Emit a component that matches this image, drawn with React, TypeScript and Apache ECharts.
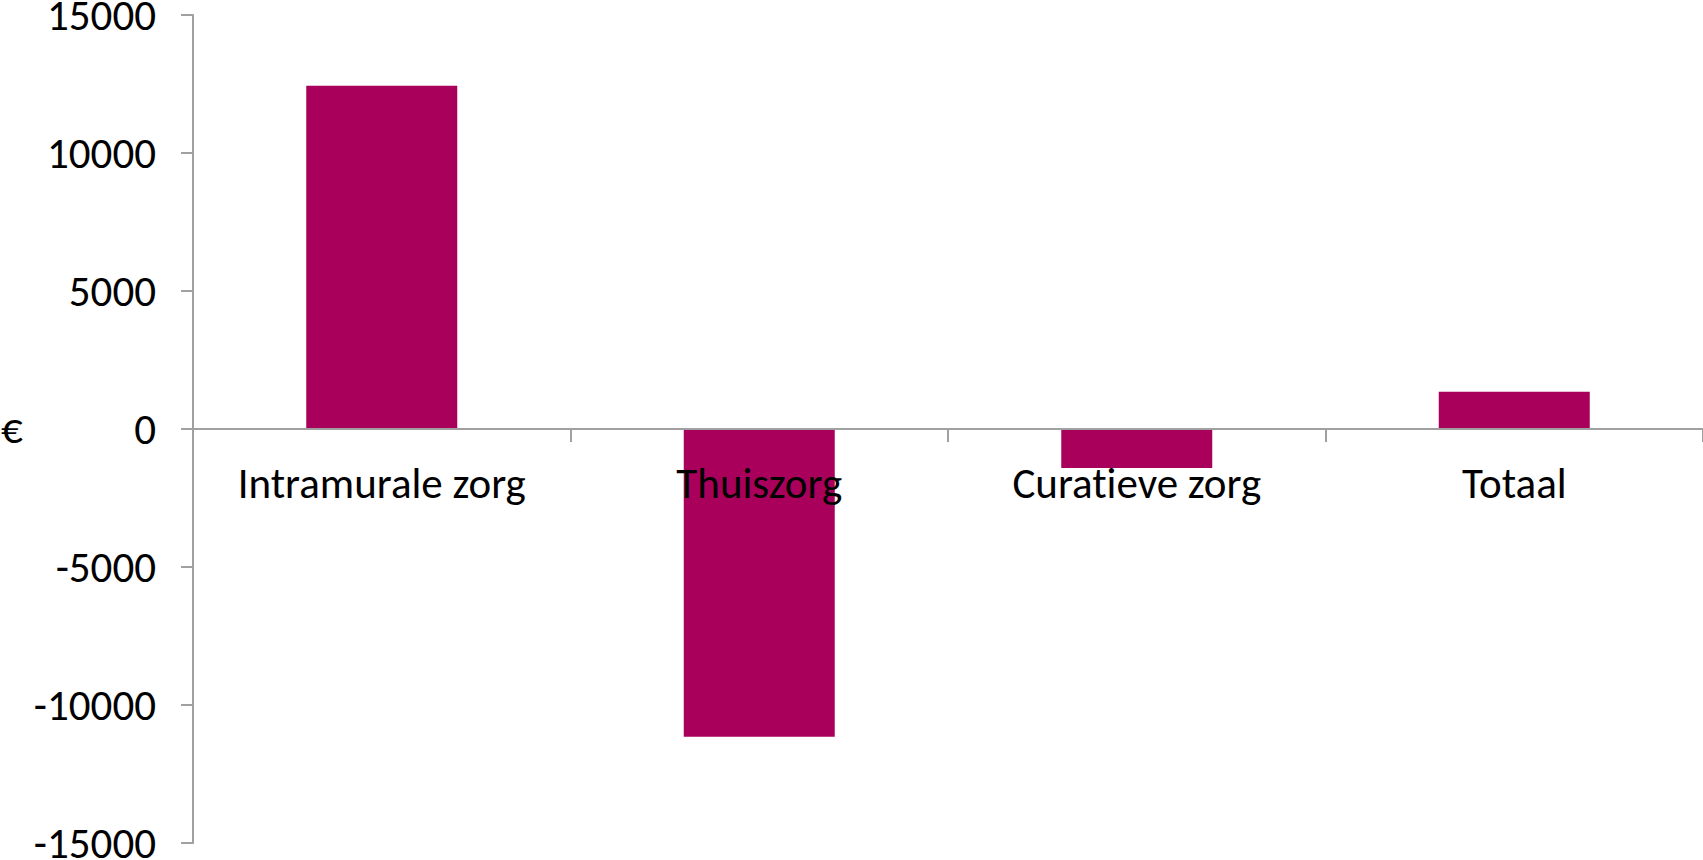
import React, { useEffect, useRef } from "react";
import * as echarts from "echarts";

// Kostenverschil per zorgsoort, in euro
const categories: string[] = ["Intramurale zorg", "Thuiszorg", "Curatieve zorg", "Totaal"];
const values: number[] = [12440, -11150, -1410, 1350];
const yTicks: number[] = [-15000, -10000, -5000, 0, 5000, 10000, 15000];

const FONT = "Carlito, Calibri, 'Liberation Sans Narrow', 'Open Sans', sans-serif";
const BAR_COLOR = "#A9005C";
const AXIS_COLOR = "#A0A0A0";

const GRID_TOP = 15;
const GRID_BOTTOM = 17;
const PLOT_HEIGHT = 860 - GRID_TOP - GRID_BOTTOM;

export default function App() {
  const ref = useRef<HTMLDivElement>(null);

  useEffect(() => {
    if (!ref.current) return;
    const chart = echarts.init(ref.current, undefined, { renderer: "svg" });
    const yMin = yTicks[0];
    const yMax = yTicks[yTicks.length - 1];
    // shift the category axis (line, ticks and labels) up to the zero line
    const zeroOffset = -PLOT_HEIGHT * (0 - yMin) / (yMax - yMin);
    chart.setOption({
      animation: false,
      grid: {
        left: 193,
        right: 0,
        top: GRID_TOP,
        bottom: GRID_BOTTOM,
        containLabel: false,
        outerBoundsMode: "none",
      },
      xAxis: {
        type: "category",
        data: categories,
        position: "bottom",
        offset: zeroOffset,
        axisLine: { onZero: false, lineStyle: { color: AXIS_COLOR, width: 2 } },
        axisTick: { show: true, length: 13, lineStyle: { color: AXIS_COLOR, width: 2 } },
        axisLabel: { color: "#000", fontSize: 43, fontFamily: FONT, margin: 33, interval: 0 },
        z: 1,
      },
      yAxis: {
        type: "value",
        min: yMin,
        max: yMax,
        interval: 5000,
        splitLine: { show: false },
        axisLine: { show: true, lineStyle: { color: AXIS_COLOR, width: 2 } },
        axisTick: { show: true, length: 12, lineStyle: { color: AXIS_COLOR, width: 2 } },
        axisLabel: {
          color: "#000",
          fontSize: 43,
          fontFamily: FONT,
          margin: 37,
          formatter: (v: number) => String(v),
        },
      },
      graphic: [
        {
          type: "text",
          x: 1,
          y: 428,
          style: {
            text: "€",
            fontSize: 43,
            fontFamily: FONT,
            fill: "#000",
            verticalAlign: "middle",
          },
        },
      ],
      series: [
        {
          type: "bar",
          data: values,
          barCategoryGap: "60%",
          itemStyle: { color: BAR_COLOR },
          z: 0,
        },
      ],
    });
    return () => chart.dispose();
  }, []);

  return (
    <>
      <style>{"#root text { font-variant-ligatures: none !important; }"}</style>
      <div
        ref={ref}
        style={{ position: "fixed", left: 0, top: 0, width: 1703, height: 860, background: "#fff" }}
      />
    </>
  );
}
